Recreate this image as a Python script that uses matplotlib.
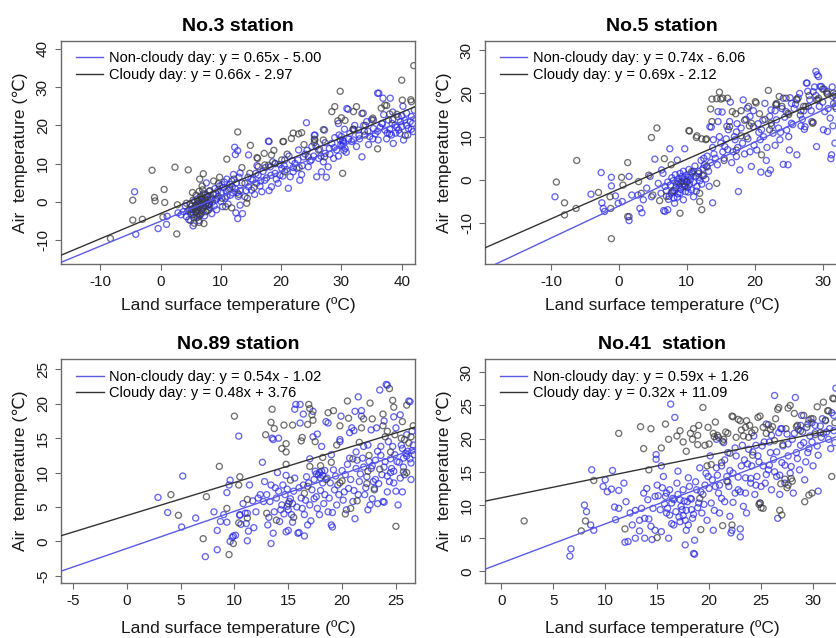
import numpy as np
import matplotlib
matplotlib.use("Agg")
import matplotlib.pyplot as plt
from matplotlib.lines import Line2D

plt.rcParams['font.family'] = ['Liberation Sans', 'DejaVu Sans']

# ---------------- data ----------------
titles = ['No.3 station', 'No.5 station', 'No.89 station', 'No.41  station']

clear_slope = [0.65, 0.74, 0.54, 0.59]
clear_icpt = [-5.00, -6.06, -1.02, 1.26]
cloudy_slope = [0.66, 0.69, 0.48, 0.32]
cloudy_icpt = [-2.97, -2.12, 3.76, 11.09]

clear_labels = ['Non-cloudy day: y = 0.65x - 5.00', 'Non-cloudy day: y = 0.74x - 6.06',
                'Non-cloudy day: y = 0.54x - 1.02', 'Non-cloudy day: y = 0.59x + 1.26']
cloudy_labels = ['Cloudy day: y = 0.66x - 2.97', 'Cloudy day: y = 0.69x - 2.12',
                 'Cloudy day: y = 0.48x + 3.76', 'Cloudy day: y = 0.32x + 11.09']

xlims = [(-16.5, 42.2), (-19.7, 32.4), (-6.08, 26.8), (-1.57, 32.5)]
ylims = [(-16.2, 42.1), (-19.5, 32.2), (-5.96, 26.5), (-1.67, 32.0)]
xticks = [[-10, 0, 10, 20, 30, 40], [-10, 0, 10, 20, 30], [-5, 0, 5, 10, 15, 20, 25], [0, 5, 10, 15, 20, 25, 30]]
yticks = [[-10, 0, 10, 20, 30, 40], [-10, 0, 10, 20, 30], [-5, 0, 5, 10, 15, 20, 25], [0, 5, 10, 15, 20, 25, 30]]

st3_clear = [(-4.3,2.7),(-4.1,-8.4),(-0.4,-6.9),(1.0,-5.8),(1.1,-3.7),(2.9,-2.8),(3.4,-3.3),
(3.8,-2.5),(4.1,-1.0),(4.3,-3.8),(4.5,-2.3),(4.7,-4.6),(4.9,-0.5),(5.0,-3.0),(5.2,-1.8),(5.4,-6.2),(5.5,-4.1),(5.6,0.2),(5.8,-2.6),(5.9,-1.2),(6.0,-3.5),(6.1,0.8),(6.2,-0.3),(6.3,-2.0),(6.4,-4.8),(6.5,-1.2),(6.6,1.5),(6.7,-0.8),(6.8,-2.9),(6.9,0.3),(7.0,-1.6),(7.1,2.2),(7.2,-0.2),(7.3,-3.6),(7.4,0.9),(7.5,-1.0),(7.6,5.0),(7.7,1.8),(7.8,-2.2),(7.9,0.5),(8.0,-0.6),(8.1,2.8),(8.2,-1.4),(8.4,1.1),(8.5,-3.0),(8.6,0.0),(8.8,2.0),(8.9,-1.0),(9.0,3.5),(9.2,0.6),(9.3,-2.0),
(9.5,3.0),(9.6,1.5),(9.8,4.2),(10.0,0.2),(10.1,2.5),(10.3,-1.2),(10.4,3.8),(10.6,5.2),(10.7,1.0),(10.9,2.8),(11.0,6.0),(11.2,-0.5),(11.3,3.2),(11.5,4.6),(11.6,1.8),(11.8,5.5),(12.0,2.4),(12.1,7.2),(12.3,14.3),(12.4,3.5),(12.5,-2.8),(12.6,5.0),(12.8,13.4),(12.8,-4.3),(12.9,1.5),(13.0,6.5),(13.2,3.0),(13.6,-3.0),(13.2,-0.8),(12.4,12.4),(14.6,12.3),(13.2,7.6),
(14.0,1.4),(14.6,4.0),(15.1,3.1),(15.9,4.9),(16.2,7.1),(16.8,2.7),(17.3,5.7),(18.0,15.8),(18.2,9.2),(18.4,4.0),(19.0,7.5),(19.5,4.9),(20.1,8.8),(20.6,11.0),(21.2,3.6),(21.5,6.6),(22.0,7.9),(22.3,10.1),(22.9,13.6),(23.1,5.7),(23.7,11.8),(24.2,20.7),(24.5,9.2),(25.1,14.5),(25.6,17.5),(25.9,6.6),(26.2,11.4),(26.7,7.9),(27.2,18.8),(27.3,12.7),(27.8,9.2),(28.4,15.3),(28.7,11.4),(29.2,13.6),(29.5,20.5),(29.8,16.2),(30.0,17.1),(30.3,15.3),(30.6,14.0),(31.1,24.2),(31.4,17.9),(32.0,16.2),(32.5,14.5),(32.8,18.8),(33.4,11.8),(33.6,23.2),(34.2,21.0),(34.7,17.1),(35.3,19.2),(36.0,28.4),(36.1,16.2),(36.7,20.5),(36.9,27.1),(37.2,18.8),(37.8,21.4),(38.1,27.1),(38.3,17.5),(38.6,15.3),(38.9,20.1),(39.4,22.3),(39.7,17.9),(40.0,19.7),(40.3,16.2),(40.5,21.4),(40.8,23.2),(41.1,19.2),(41.4,21.0),(41.6,22.3),(41.9,18.4),(42.1,24.0),
(14.5,6.5),(15.3,5.8),(15.6,2.0),(16.0,9.5),(16.5,4.2),(17.0,8.0),(17.6,6.3),(18.0,3.0),(18.6,10.5),(19.2,6.0),(19.8,9.8),(20.3,6.8),(20.9,8.5),(21.8,10.8),(22.6,8.8),(23.4,7.2),(24.0,12.5),(24.8,10.7),(25.4,12.0),(26.4,13.8),(27.0,10.5),(27.5,6.5),(28.0,14.0),(28.9,16.8),(29.5,12.0),(30.2,16.0),(30.5,19.0),(30.8,13.0),(31.7,15.8),(32.2,20.0),(33.0,16.5),(33.8,18.5),(34.5,15.0),(35.0,21.5),(35.6,17.8),(36.4,19.5),(37.0,22.8),(37.5,16.5),(38.0,19.0),(38.5,23.5),(39.0,18.0),(39.8,21.0),(40.2,25.0),(41.0,17.5),(41.8,20.5),(17.9,15.9),(25.5,17.4),(30.9,24.4),(36.2,28.4),
(5.3,-2.0),(6.0,-0.8),(6.6,-3.2),(7.2,0.0),(7.8,-1.0),(8.3,0.5),(9.4,1.0),(10.2,4.5),(11.0,1.5),(11.9,4.0),(12.7,2.5),(13.5,5.0),(14.2,3.0),(15.0,6.0),(15.8,7.5),(16.6,5.5),(17.4,9.0),(18.3,7.0),(19.0,10.0),(19.8,7.0),(20.5,9.5),(21.3,12.0),(22.0,9.0),(22.8,11.0),(23.5,9.5),(24.3,13.5),(25.0,11.0),(25.8,14.5),(26.6,12.0),(27.3,15.5),(28.1,12.5),(28.8,14.2),(29.6,17.5),(30.4,13.5),(31.2,16.5),(32.0,19.0),(32.9,17.5),(33.7,20.0),(34.4,18.5),(35.2,16.5),(36.0,18.5),(36.8,20.5),(37.6,18.0),(38.4,20.5),(39.2,19.5),(40.0,22.5),(40.8,20.0),(41.6,19.0),(29.9,15.0),(30.1,14.6),(30.4,15.8),(38.0,17.8),(39.5,18.8)]

st3_cloudy = [(-8.3,-9.5),(-4.6,-4.7),(-4.6,0.5),(-3.0,-4.5),(-1.4,8.3),(-1.0,1.2),(-0.9,0.3),(0.6,3.3),(0.7,-0.1),(0.4,-3.9),(2.4,9.1),(2.8,-0.7),(2.7,-8.3),(4.6,8.4),(7.1,7.4),(6.5,6.0),
(4.3,-0.3),(4.8,-2.0),(5.0,-4.8),(5.2,-1.0),(5.4,0.5),(5.5,-3.2),(5.6,-5.5),(5.8,-0.8),(5.9,1.8),(6.0,-2.5),(6.1,-4.0),(6.2,0.2),(6.3,-1.5),(6.4,2.8),(6.5,-3.5),(6.6,-0.5),(6.7,1.0),(6.8,-2.2),(6.9,4.2),(7.0,-1.0),(7.2,-5.6),(7.3,0.6),(7.4,2.0),(7.6,-0.3),(7.8,1.4),(8.0,-2.0),(8.2,3.0),(8.5,0.8),(8.8,5.5),(9.2,2.2),(9.6,4.8),(10.2,1.0),
(11.0,11.2),(12.8,18.3),(14.9,14.8),(17.9,9.6),(17.2,12.7),(16.0,11.6),(20.3,15.8),(22.0,18.0),(22.9,17.8),(21.7,16.6),(25.5,15.5),(25.5,16.4),(27.0,18.9),(27.2,11.8),(28.4,23.6),(28.9,24.9),(29.8,28.9),(30.6,21.3),(30.2,7.5),(32.5,24.9),(33.4,23.1),(31.9,19.0),(35.2,21.9),(36.0,13.9),(37.5,25.2),(36.6,24.5),(40.0,31.8),(41.5,26.7),(42.0,35.6),(40.6,17.4),(39.2,22.9),
(16.1,11.4),(20.4,15.8),(23.4,18.1),(25.6,16.2),(29.4,21.2),(32.0,23.6),(32.1,18.8),(33.9,17.5),(35.3,21.4),(37.2,25.3),(40.1,26.6),(41.6,26.2),(24.5,11.8),(27.0,16.2),(26.2,13.6),(20.6,7.9),(20.1,11.0),(19.0,10.1),(18.4,12.3),(17.3,9.7),(16.2,9.2),(14.0,4.9),(14.8,7.5),(14.4,1.0),(14.3,-0.3),(11.5,3.5),(12.2,6.0),(13.0,2.0),(10.8,-1.2),(11.8,-1.5),(15.5,3.8),(21.0,12.5),(23.0,9.0),(34.0,20.0),(38.5,21.5),
(5.1,-2.6),(5.7,-1.5),(6.2,-3.0),(6.8,0.6),(7.5,-2.5),(8.1,-0.5),(6.4,-5.3),(5.3,2.5),(7.0,3.2),(9.8,6.5),(13.5,9.0),(18.8,13.5),(23.8,15.0),(30.0,22.0),(38.0,23.0)]

st5_clear = [(-9.4,-3.9),(-4.1,-3.3),(-2.6,1.7),(-2.5,-5.3),(-2.3,-6.6),(-2.1,-7.3),(-1.1,0.6),(-1.1,-1.4),(-0.5,-3.7),(-0.1,-5.4),(0.5,-5.0),(1.5,0.8),(1.5,-8.5),(1.5,-9.4),(1.9,-3.5),(2.8,-3.5),(3.1,-6.6),(3.4,-7.6),(3.6,-4.6),(4.1,-1.9),(4.6,0.8),(5.3,4.8),(4.8,-3.9),(5.8,-0.8),(6.2,-3.1),(6.3,2.3),
(6.5,1.5),(6.6,-7.1),(7.2,-6.9),(7.5,7.2),(8.6,4.6),(9.7,7.2),(6.8,-7.3),(8.2,-5.4),(9.0,-3.1),(9.5,-4.6),(11.0,-3.9),(12.4,2.7),(13.8,-5.3),
(6.8,-1.5),(7.0,-2.5),(7.2,-0.5),(7.4,-3.8),(7.6,-1.2),(7.8,0.5),(7.9,-2.8),(8.0,-0.2),(8.1,-4.2),(8.3,1.2),(8.4,-1.8),(8.5,-0.8),(8.7,-3.2),(8.8,0.3),(8.9,-1.3),(9.0,1.5),(9.1,-2.2),(9.2,-0.4),(9.3,0.8),(9.4,-1.6),(9.5,2.0),(9.6,-0.9),(9.7,0.2),(9.8,-2.7),(9.9,1.1),(10.0,-0.3),(10.1,-1.8),(10.2,0.6),(10.3,2.4),(10.4,-1.0),(10.5,0.0),(10.7,-2.3),(10.8,1.6),(11.0,-0.6),(11.2,3.2),(11.3,0.9),(11.5,-1.5),(11.7,2.0),(11.9,-0.2),(12.1,4.5),(12.3,1.0),(12.6,3.5),(12.8,0.2),(13.0,5.5),(13.2,2.0),(13.5,4.0),
(13.4,12.3),(13.9,9.3),(14.6,15.8),(14.6,13.5),(15.2,15.7),(16.4,18.0),(15.6,7.7),(16.1,11.6),(17.1,9.3),(17.3,5.4),(17.8,2.3),(17.6,-2.7),(18.3,18.5),(18.9,16.6),(19.3,14.7),(19.8,12.3),(19.5,3.1),(20.3,6.9),(20.8,9.3),(21.0,11.6),(21.5,17.7),(22.0,1.5),(22.2,14.7),(22.7,10.8),(23.2,13.9),(23.2,17.4),(23.7,9.3),(24.2,18.9),(24.6,15.8),(24.9,3.5),(25.4,13.1),(25.4,17.7),(26.2,5.8),(26.7,15.0),(27.4,12.3),(27.6,22.4),(28.1,18.5),(28.6,20.4),(29.0,25.1),(29.4,23.9),(29.1,7.7),(29.6,21.6),(30.1,11.6),(30.3,15.8),(31.1,14.3),(31.3,5.8),(31.6,17.7),(31.8,19.7),(13.6,12.2),(15.9,12.4),(17.3,11.1),(20.9,1.8),(22.3,2.3),(24.2,3.6),(25.1,6.9),(26.8,12.5),(27.3,11.7),(27.7,22.4),(29.2,24.3),(29.8,21.6),(30.7,11.2),(31.2,4.9),
(14.0,6.0),(14.5,3.5),(15.0,8.5),(15.5,5.0),(16.0,7.0),(16.6,4.0),(17.0,10.0),(17.5,7.5),(18.0,12.0),(18.5,6.0),(19.0,9.5),(19.9,8.0),(20.5,13.0),(21.3,10.0),(21.8,7.5),(22.5,12.5),(23.0,16.0),(23.8,11.0),(24.4,14.5),(25.0,10.0),(25.8,16.5),(26.4,19.0),(27.0,14.0),(27.9,17.0),(28.4,13.5),(29.0,19.5),(30.0,18.0),(30.6,20.5),(31.5,12.5),(32.0,16.5),
(7.3,-4.5),(7.7,-3.0),(8.2,-2.5),(8.6,-4.0),(9.0,-0.8),(9.4,0.4),(9.8,-1.2),(10.2,-2.8),(10.6,1.0),(11.0,2.0),(11.4,-2.6),(11.8,0.6),(12.2,-1.0),(12.5,5.0),(13.0,3.0),(13.3,-1.5),(13.8,7.5),(14.2,5.0),(14.8,10.0),(15.3,6.5),(15.8,9.5),(16.3,13.5),(16.8,6.5),(17.4,13.0),(18.2,8.5),(18.7,14.0),(19.3,6.5),(19.8,16.0),(20.6,11.0),(21.2,13.8),(21.7,4.5),(22.4,16.2),(23.0,8.0),(23.5,12.0),(24.0,16.5),(24.7,11.5),(25.2,19.0),(25.6,12.8),(26.0,17.5),(26.6,20.0),(27.2,16.0),(27.8,20.5),(28.3,16.0),(28.8,21.5),(29.5,17.0),(30.2,21.0),(30.8,16.5),(31.4,21.5),(32.0,18.5),(31.8,8.5)]

st5_cloudy = [(-9.2,-0.5),(-8.0,-5.3),(-8.0,-8.1),(-6.3,-6.6),(-6.2,4.5),(-3.0,-2.9),(-1.3,-3.9),(-1.2,-6.6),(-1.1,-13.6),(0.4,0.6),(0.6,-1.2),(1.3,4.0),(1.3,-8.5),(2.9,-0.4),(4.8,9.8),(5.6,12.0),(4.4,1.1),(5.0,-3.5),(3.3,-3.1),(6.7,4.9),(7.7,3.5),
(9.0,-7.7),(10.4,11.3),(11.4,9.8),(12.2,9.5),(12.9,9.5),(11.9,-5.0),(12.2,-6.9),(13.7,18.7),(14.8,20.3),(15.0,18.7),(16.0,18.9),(13.5,16.4),(16.7,15.8),(18.0,16.0),(18.0,10.2),(19.1,17.0),(19.2,12.5),(20.1,18.1),(20.7,15.3),(22.0,20.7),(21.0,5.8),(23.2,17.7),(23.6,19.3),(24.6,18.9),(24.9,15.4),(26.2,18.7),(27.2,17.0),(28.6,13.3),(29.1,18.5),(30.6,20.1),(31.6,20.1),(31.8,17.0),(13.7,13.5),(17.3,6.9),(18.8,10.0),(22.2,11.6),(16.3,12.3),(12.9,3.1),(11.7,1.5),(10.7,1.9),(14.4,-0.8),(11.9,-3.1),(9.7,-1.5),(8.7,-0.4),(14.4,18.8),(15.3,18.9),(17.2,15.3),(19.5,13.1),(20.2,17.8),(22.4,13.1),(23.1,17.4),(25.0,15.1),(26.2,18.5),(27.5,17.0),(28.5,13.1),(29.3,18.5),(29.4,18.9),(30.7,19.8),(31.5,19.3),(10.3,11.4),(11.5,10.2),(12.8,9.3),(6.0,-4.8),(7.0,-3.8),(8.0,-2.5),(10.0,-0.5),(12.5,1.0),(15.5,4.5),(18.5,13.8),(21.5,14.0),(24.0,17.0),(26.8,16.0),(28.0,19.5),(30.0,21.0)]

st89_clear = [(2.9,6.4),(3.8,4.2),(5.2,9.5),(5.1,2.1),(6.4,3.4),(7.3,-2.2),(8.1,4.3),(8.4,-1.2),(8.4,1.6),(8.7,2.9),(9.3,2.8),(9.0,3.9),(9.3,7.1),(9.5,8.2),(9.6,8.9),(9.8,0.6),(9.9,0.8),(10.1,0.9),(9.6,0.0),(10.4,15.3),(10.5,3.8),(10.6,2.5),(11.2,4.1),(11.2,0.1),(11.3,1.5),(11.4,8.2),(11.7,5.9),(12.6,11.5),(12.7,5.8),(13.4,-0.3),(13.6,1.2),(13.5,15.0),(14.1,15.0),(14.8,9.6),(15.0,1.6),(15.7,19.9),(16.1,19.9),(15.6,19.2),(16.4,18.5),(16.0,1.3),(16.5,0.8),(17.3,15.2),(17.7,15.6),(18.1,13.8),(18.7,17.2),(19.1,2.1),(19.8,14.5),(20.7,15.8),(21.1,16.1),(21.5,21.0),(21.8,19.0),(21.2,3.3),(22.7,16.2),(22.4,4.6),(23.3,5.5),(23.5,22.0),(23.9,5.7),(24.2,22.7),(24.8,18.1),(25.2,5.3),(25.6,7.2),(26.2,20.4),
(10.5,3.9),(11.0,4.1),(11.1,2.6),(12.0,4.3),(12.2,6.3),(12.8,8.7),(13.0,6.8),(13.1,2.4),(13.3,5.8),(13.4,8.2),(13.6,14.8),(13.7,4.3),(13.9,6.3),(14.1,7.3),(14.2,2.9),(14.4,5.3),(14.5,8.2),(14.7,6.8),(14.8,1.4),(15.0,4.6),(15.1,5.8),(15.3,3.9),(15.5,7.3),(15.6,9.2),(15.9,1.2),(16.1,17.2),(16.2,6.3),(16.4,8.2),(16.5,3.9),(16.7,9.4),(16.8,2.4),(17.0,5.3),(17.2,7.5),(17.3,18.9),(17.5,10.2),(17.6,6.5),(17.8,9.7),(17.9,3.9),(18.1,10.2),(18.2,8.5),(18.4,6.8),(18.5,17.4),(18.7,4.3),(18.9,8.5),(19.0,2.4),(19.2,10.4),(19.3,7.5),(19.5,5.3),(19.6,8.2),(19.8,14.8),(19.9,18.2),(20.1,6.0),(20.3,9.7),(20.4,4.6),(20.6,7.7),(20.7,12.1),(20.9,16.5),(21.0,5.8),(21.2,18.9),(21.3,10.6),(21.5,6.8),(21.6,8.7),(21.8,18.2),(21.9,12.1),(22.1,6.8),(22.3,9.4),(22.4,14.0),(22.6,5.3),(22.7,10.6),(22.9,8.7),(23.0,7.7),(23.2,16.5),(23.3,13.1),(23.7,9.7),(23.8,5.8),(24.0,11.6),(24.1,22.8),(24.3,14.5),(24.4,8.7),(24.6,10.6),(24.7,13.8),(24.9,12.6),(25.0,7.3),(25.4,18.4),(25.5,14.0),(25.7,12.1),(25.8,9.7),(26.0,15.5),(26.1,13.1),(26.3,20.3),(26.4,11.4),(26.6,14.0),
(17.6,9.8),(17.9,10.0),(18.2,9.6),(18.4,10.3),(18.0,9.2),(17.4,9.0),(15.2,6.2),(14.9,5.1),(15.4,5.5),(14.6,4.0),(22.8,11.0),(23.6,12.5),(24.2,9.5),(24.8,10.2),(25.3,11.5),(25.9,12.8),(26.3,12.0),(24.5,12.0),(23.1,9.0),(25.6,13.5),(26.5,13.2),
(13.2,3.5),(13.8,7.8),(14.3,4.6),(14.9,7.6),(15.4,2.8),(15.8,5.0),(16.0,7.8),(16.3,4.8),(16.6,6.0),(16.9,8.5),(17.1,3.0),(17.4,6.2),(17.7,4.8),(18.0,7.4),(18.3,5.5),(18.6,9.2),(18.8,6.3),(19.1,4.2),(19.4,9.5),(19.7,6.8),(20.0,10.3),(20.2,7.2),(20.5,11.2),(20.8,9.0),(21.1,7.4),(21.4,11.8),(21.7,9.8),(22.0,10.8),(22.2,7.8),(22.5,11.6),(22.8,6.2),(23.1,11.8),(23.4,8.4),(23.6,13.8),(23.9,10.8),(24.2,7.2),(24.5,10.0),(24.8,8.5),(25.1,11.6),(25.4,9.2),(25.7,10.8),(26.0,12.4),(26.4,9.0),(26.7,12.6),(21.3,13.0),(19.0,12.6),(17.0,12.0),(22.0,13.8),(25.0,16.5),(26.5,16.0),(23.9,17.5),(14.0,10.0),(12.4,6.8),(11.8,2.0),(10.8,5.5)]

st89_cloudy = [(4.1,6.8),(4.8,3.8),(7.4,6.5),(7.1,0.4),(8.6,10.9),(9.3,4.8),(9.5,-1.9),(9.9,-0.3),(10.0,18.2),(10.5,9.4),(10.4,8.2),(10.4,2.7),(11.2,6.1),(11.2,3.4),(12.9,15.5),(13.0,4.1),(13.4,17.3),(13.5,19.2),(13.7,16.4),(14.4,13.5),(14.6,16.9),(14.8,14.2),(14.8,13.0),(14.8,11.2),(13.9,3.1),(15.2,8.9),(15.4,16.9),(16.3,15.1),(16.2,14.6),(16.9,19.9),(17.0,19.3),(17.0,10.9),(17.2,18.4),(17.3,17.6),(18.2,12.2),(18.7,18.7),(19.5,14.0),(19.8,16.8),(20.0,8.8),(20.6,17.9),(20.5,20.4),(20.8,4.8),(21.4,5.9),(21.6,14.4),(22.0,17.8),(22.3,8.4),(22.6,20.1),(22.8,17.8),(23.8,18.5),(23.8,16.8),(24.2,16.0),(24.4,22.2),(24.7,20.5),(24.8,19.5),(25.0,2.2),(25.6,17.4),(25.7,10.1),(26.2,14.3),(26.6,16.8),(24.9,15.5),(15.0,5.5),(15.5,3.5),(16.5,7.0),(18.5,9.0),(19.8,8.5),(21.0,12.0),(22.5,12.5),(23.5,10.5),(24.5,13.0),(25.5,15.0),(26.0,10.0),(16.8,8.0),(19.0,11.5),(23.0,7.5),(20.3,4.0),
(25.8,14.8),(26.4,15.2),(24.0,15.2),(22.4,10.2),(18.0,11.0),(17.5,14.5),(21.8,16.5),(19.2,19.0),(16.8,17.0),(26.0,19.8)]

st41_clear = [(6.7,3.4),(6.6,2.3),(8.0,10.0),(8.2,9.0),(8.7,15.3),(8.6,7.0),(8.9,6.2),(9.8,12.8),(10.0,13.8),(10.6,12.4),(10.7,15.2),(10.9,9.7),(11.3,9.5),(11.3,12.2),(11.8,13.3),(11.9,4.4),(12.2,4.5),(12.4,8.8),(12.9,9.2),(12.9,5.0),(13.3,7.7),(13.3,6.1),(13.7,11.8),(13.8,5.0),(13.8,8.0),(14.1,10.8),(14.2,7.9),(14.5,4.8),(14.6,9.5),(14.8,6.2),(14.9,17.6),(14.9,16.9),(14.8,11.3),(15.1,11.4),(15.3,9.3),(15.4,6.0),
(15.4,15.9),(15.6,14.3),(15.8,11.3),(15.9,8.8),(16.1,5.0),(16.2,12.3),(16.4,10.3),(16.6,7.0),(16.7,23.2),(16.9,13.3),(17.0,15.1),(17.2,10.8),(17.4,9.3),(17.5,12.3),(17.7,7.7),(17.8,6.2),(18.0,14.1),(18.2,11.0),(18.3,9.3),(18.5,2.7),(18.6,4.7),(18.8,12.3),(19.0,10.3),(19.1,15.6),(19.3,8.8),(19.4,11.6),(19.8,7.7),(19.9,14.3),(20.1,17.4),(20.2,10.3),(20.4,6.2),(20.6,12.8),(20.7,19.9),(20.9,11.8),(21.0,8.8),(21.2,15.9),(21.4,19.4),(21.5,10.5),(21.7,14.3),(21.8,17.9),(22.0,8.3),(22.2,6.2),(22.3,14.8),(22.5,11.8),(22.6,17.4),(22.8,12.3),(23.0,5.2),(23.1,15.9),(23.3,9.8),(23.5,14.1),(23.6,8.8),(23.8,18.4),(24.0,13.3),(24.1,15.9),(24.3,20.4),(24.4,11.6),(24.6,14.3),(24.7,17.4),(24.9,10.3),(25.1,18.9),(25.2,15.9),(25.4,13.3),(25.5,22.2),(25.7,15.3),(25.9,17.9),(26.0,12.3),(26.2,16.9),(26.3,26.5),(26.5,14.3),(26.7,20.9),(26.8,11.6),(27.0,16.4),(27.1,18.9),(27.3,13.3),(27.5,20.7),(27.6,17.4),(27.8,14.8),(28.0,19.9),(28.1,11.8),(28.3,26.2),(28.4,17.9),(28.6,21.4),(28.7,15.3),(28.9,23.5),(29.1,19.4),(29.2,13.8),(29.4,21.7),(29.5,17.9),(29.7,20.4),(29.9,22.4),(30.0,15.9),(30.2,20.9),(30.4,18.9),(30.5,12.1),(30.7,21.9),(30.8,20.2),(31.2,22.7),(31.5,19.9),(31.8,23.9),(32.0,21.2),(32.1,19.4),(32.2,27.6),
(16.3,25.2),(23.0,6.4),(22.1,5.8),(26.6,8.0),(17.7,4.0),(18.6,2.6),(16.0,9.5),(16.5,11.0),(17.1,8.2),(17.9,10.5),(18.4,8.0),(19.6,13.0),(20.8,14.5),(21.9,12.8),(23.4,16.8),(24.5,19.0),(25.8,19.5),(26.9,21.5),(28.8,22.0),(29.6,18.5),(31.0,20.8),(31.6,21.5),
(15.7,10.2),(15.9,11.8),(16.2,8.5),(16.4,7.2),(16.6,10.8),(16.8,9.0),(17.0,11.6),(17.2,7.5),(17.3,9.8),(17.5,8.4),(17.6,10.6),(17.8,9.2),(18.0,7.0),(18.1,12.8),(18.3,10.9),(18.5,8.6),(18.7,13.5),(18.9,9.6),(19.2,12.0),(19.5,10.1),(19.7,14.8),(20.0,12.5),(20.3,13.8),(20.5,9.2),(20.7,15.6),(21.0,13.0),(21.2,11.0),(21.5,16.8),(21.8,13.5),(22.0,15.2),(22.3,10.4),(22.5,18.6),(22.8,14.2),(23.0,12.0),(23.2,19.0),(23.5,11.8),(23.7,16.2),(24.0,14.0),(24.2,18.0),(24.5,13.0),(24.8,16.5),(25.0,12.8),(25.3,19.5),(25.5,14.6),(25.8,16.0),(26.0,20.5),(26.3,15.0),(26.5,18.0),(26.8,14.5),(27.0,21.5),(27.3,16.0),(27.6,19.2),(27.9,15.8),(28.2,20.8),(28.5,17.0),(28.8,19.0),(29.0,21.0),(29.3,16.5),(29.6,22.8),(29.9,19.5),(30.2,22.0),(30.5,17.5),(30.9,23.0),(31.3,21.0),(31.7,18.5),(32.0,23.5),(12.6,7.0),(13.5,9.5),(14.0,12.5),(14.4,6.8),(15.0,13.0),(15.5,12.6),(11.0,7.8),(12.0,10.5),(10.2,12.0)]

st41_cloudy = [(2.2,7.6),(7.7,6.1),(8.1,7.6),(8.9,13.7),(11.3,20.8),(11.9,6.4),(13.4,21.8),(13.7,18.5),(14.4,21.5),(14.2,15.3),(15.0,5.1),(15.4,18.6),
(15.8,22.2),(16.9,20.4),(17.8,18.1),(18.5,21.5),(19.4,24.7),(19.6,19.0),(19.9,21.7),(20.4,20.8),(20.9,20.2),(21.2,16.4),(21.4,19.9),(22.2,23.4),(23.0,22.7),(23.5,21.7),(23.8,20.2),(24.1,20.9),(24.9,23.4),(25.2,21.7),(24.9,10.3),(25.2,9.5),(25.9,21.4),(26.3,19.7),(26.7,24.7),(27.0,8.5),(27.1,19.1),(27.5,12.6),(27.8,25.0),(28.0,13.6),(28.4,21.8),(29.1,23.5),(29.2,10.5),(29.9,11.8),(30.0,23.0),(30.7,20.9),(31.0,25.5),(31.5,24.2),(31.8,14.3),(32.0,26.0),(32.1,22.4),(21.7,13.6),(19.8,15.9),(19.1,11.0),(22.2,7.0),(17.2,21.2),
(16.1,19.9),(18.4,19.9),(18.9,19.1),(18.9,20.5),(19.2,6.3),(20.2,16.1),(20.5,20.3),(20.8,20.5),(21.3,19.6),(21.3,6.9),(21.8,20.8),(22.3,23.3),(22.8,22.9),(23.1,21.3),(23.3,20.4),(23.6,22.7),(24.7,23.2),(24.8,10.1),(25.0,9.6),(25.7,22.1),(26.1,21.8),(26.6,24.4),(26.8,9.2),(27.3,13.9),(27.6,24.6),(27.6,13.0),(28.5,22.0),(29.6,11.5),(29.8,23.0),(30.2,20.6),(31.4,24.2),(31.9,26.1),
(17.5,19.5),(18.2,20.8),(19.0,22.0),(20.0,19.2),(20.6,22.5),(21.6,21.0),(22.6,20.2),(23.9,22.0),(24.4,21.3),(25.5,20.8),(26.4,23.0),(27.4,21.5),(28.2,23.8),(28.8,21.2),(29.5,22.2),(30.4,24.8),(31.2,22.8),(22.0,17.8),(24.2,17.5),(26.9,13.2),(27.9,14.0)]

clear_sets = [st3_clear, st5_clear, st89_clear, st41_clear]
cloudy_sets = [st3_cloudy, st5_cloudy, st89_cloudy, st41_cloudy]

# ---------------- style ----------------
W, H = 837, 638
fig = plt.figure(figsize=(W / 100, H / 100), dpi=100)

# axes boxes in pixels: left, top, width, height
boxes = [(61, 40.7, 354, 223.5), (485, 40.7, 354, 223.5),
         (61.3, 359, 354, 223.5), (485, 359, 354, 223.5)]
xlabel_off = [41, 41, 46, 46]

pt_blue = '#2a2ae8'
pt_dark = '#3a3a3a'
ln_blue = '#5a5ae6'
ln_dark = '#333333'
spine_c = '#6a6a6a'

for i in range(4):
    l, t, w, h = boxes[i]
    ax = fig.add_axes([l / W, 1 - (t + h) / H, w / W, h / H])
    c = np.array(clear_sets[i])
    d = np.array(cloudy_sets[i])
    ax.scatter(c[:, 0], c[:, 1], s=19, facecolors='none', edgecolors=pt_blue,
               linewidths=0.95, alpha=0.72, zorder=2)
    ax.scatter(d[:, 0], d[:, 1], s=19, facecolors='none', edgecolors=pt_dark,
               linewidths=0.95, alpha=0.72, zorder=2)
    ax.axline((0, clear_icpt[i]), slope=clear_slope[i], color=ln_blue, lw=1.0, zorder=3)
    ax.axline((0, cloudy_icpt[i]), slope=cloudy_slope[i], color=ln_dark, lw=1.0, zorder=3)
    ax.set_xlim(*xlims[i])
    ax.set_ylim(*ylims[i])
    ax.set_xticks(xticks[i])
    ax.set_yticks(yticks[i])
    ax.set_xticklabels([str(v) for v in xticks[i]])
    ax.set_yticklabels([str(v) for v in yticks[i]], rotation=90, va='center')
    ax.tick_params(length=4, width=0.8, color=spine_c, labelsize=11, pad=4,
                   labelcolor='#1a1a1a')
    for s in ax.spines.values():
        s.set_color(spine_c)
        s.set_linewidth(1.0)
    ax.set_title(titles[i], fontsize=14, fontweight='bold', pad=7)
    ax.set_xlabel('Land surface temperature (ºC)', fontsize=12.5, color='#1a1a1a')
    ax.xaxis.set_label_coords(0.5, -xlabel_off[i] / h)
    ax.xaxis.label.set_va('center')
    ax.set_ylabel('Air  temperature (℃)', fontsize=12.5, color='#1a1a1a')
    ax.yaxis.set_label_coords(-41 / w, 0.5)
    ax.yaxis.label.set_va('center')
    handles = [Line2D([], [], color=ln_blue, lw=1.0), Line2D([], [], color=ln_dark, lw=1.0)]
    ax.legend(handles, [clear_labels[i], cloudy_labels[i]], loc='upper left',
              bbox_to_anchor=(6 / w, 1 - 2 / h), frameon=False,
              fontsize=10.5, handlelength=1.9, handletextpad=0.35, borderaxespad=0.3,
              borderpad=0.3, labelspacing=0.15)

fig.savefig('out.png', dpi=100)
